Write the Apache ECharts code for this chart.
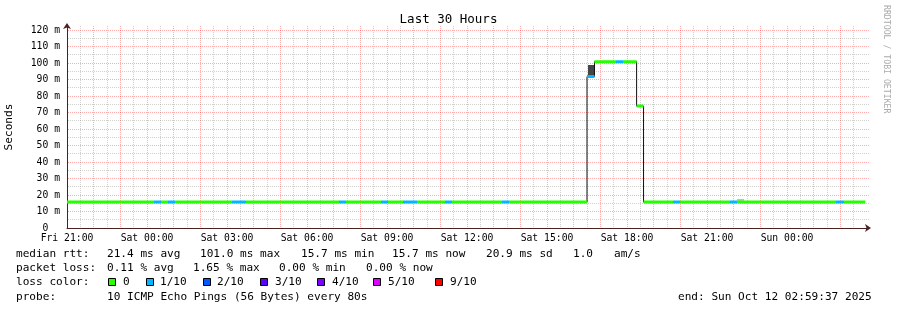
<!DOCTYPE html>
<html><head><meta charset="utf-8">
<script src="https://cdn.jsdelivr.net/npm/echarts@6/dist/echarts.min.js"></script>
<style>html,body{margin:0;padding:0;background:#fff}#c{width:897px;height:310px}</style>
</head><body><div id="c"></div>
<script>
// ---------- data (hours since Fri 21:00) ----------
const xTickLabels = ['Fri 21:00','Sat 00:00','Sat 03:00','Sat 06:00','Sat 09:00','Sat 12:00','Sat 15:00','Sat 18:00','Sat 21:00','Sun 00:00'];
const stepEdges = [0,3.2625,3.525,3.7875,4.05,6.1875,6.7125,10.2,10.4625,11.775,12.0375,12.6,13.125,14.175,14.4375,16.3125,16.575,19.5,19.78,20.59,20.85,21.36,21.62,22.725,22.99,24.86,25.125,28.84,29.14,29.93];
const stepMedian = [15.7,15.7,15.7,15.7,15.7,15.7,15.7,15.7,15.7,15.7,15.7,15.7,15.7,15.7,15.7,15.7,15.7,91.8,100.8,100.8,100.8,73.9,15.7,15.7,15.7,15.7,15.7,15.7,15.7];
const stepLoss   = [0,1,0,1,0,1,0,1,0,1,0,1,0,1,0,1,0,1,0,1,0,0,0,1,0,1,0,1,0];
// smoke: start, end, low, high (ms), density 0..1
const smokeStart = [19.5375, 25.125];
const smokeEnd = [19.8, 25.3875];
const smokeLow = [92.7, 16.4];
const smokeHigh = [98.8, 17.6];
const smokeDensity = [0.85, 0.2];
// grid ticks
const xMajorTicks = [1,2,3,4,5,6,7,8,9,10,11,12,13,14,15,16,17,18,19,20,21,22,23,24,25,26,27,28,29];
const xMinorTicks = [0.5,1.5,2.5,3.5,4.5,5.5,6.5,7.5,8.5,9.5,10.5,11.5,12.5,13.5,14.5,15.5,16.5,17.5,18.5,19.5,20.5,21.5,22.5,23.5,24.5,25.5,26.5,27.5,28.5,29.5];
const yMajorTicks = [10,20,30,40,50,60,70,80,90,100,110,120];
const yMinorTicks = [5,15,25,35,45,55,65,75,85,95,105,115];
// legend texts
const lossLabels = ['0','1/10','2/10','3/10','4/10','5/10','9/10'];
const lossLevels = [0,1,2,3,4,5,9];
const medianStats = ['21.4 ms avg','101.0 ms max','15.7 ms min','15.7 ms now','20.9 ms sd','1.0','am/s'];
const lossStats = ['0.11 % avg','1.65 % max','0.00 % min','0.00 % now'];
const probeText = '10 ICMP Echo Pings (56 Bytes) every 80s';
const endText = 'end: Sun Oct 12 02:59:37 2025';

// ---------- styles ----------
const lossColors = ['#26ff00','#00b8ff','#0059ff','#5e00ff','#7e00ff','#dd00ff','#ff0000'];
const MONO = 'DejaVu Sans Mono';
const majorGrid = 'rgba(255,0,0,0.33)';
const minorGrid = 'rgba(140,140,140,0.42)';

function lossIndex(l){ const i = lossLevels.indexOf(l); return i >= 0 ? i : lossLevels.length-1; }
function smokeShade(d){ const g = Math.round(230 - d*190); return 'rgb('+g+','+g+','+g+')'; }

// black step line
const stepLine = [];
for (let i = 0; i < stepMedian.length; i++) {
  stepLine.push([stepEdges[i], stepMedian[i]]);
  stepLine.push([stepEdges[i+1], stepMedian[i]]);
}
// coloured segments per loss level
const lossSeries = [];
const usedLoss = Array.from(new Set(stepLoss));
usedLoss.forEach(l => {
  const d = [];
  for (let i = 0; i < stepMedian.length; i++) {
    if (stepLoss[i] !== l) continue;
    d.push([stepEdges[i], stepMedian[i]]);
    d.push([stepEdges[i+1], stepMedian[i]]);
    d.push([stepEdges[i+1], '-']);
  }
  lossSeries.push({
    type:'line', data:d, symbol:'none', connectNulls:false, z:4,
    lineStyle:{color: lossColors[lossIndex(l)], width:3, cap:'butt'}, silent:true
  });
});
const smokeData = smokeStart.map((s,i)=>[s, smokeEnd[i], smokeLow[i], smokeHigh[i], smokeDensity[i]]);

function vGridSeries(ticks, color, z){
  return {type:'custom', data:ticks.map(v=>[v, 0]), z:z, silent:true, clip:false, encode:{x:0, y:1},
    renderItem:(params, api)=>{
      const cs = params.coordSys;
      const p = api.coord([api.value(0), 0]);
      const x = Math.floor(p[0]) + 0.5;
      return {type:'line', shape:{x1:x, y1:cs.y, x2:x, y2:cs.y + cs.height}, style:{stroke:color, lineWidth:1, lineDash:[1,1]}};
    }};
}
function hGridSeries(ticks, color, z){
  return {type:'custom', data:ticks.map(v=>[0, v]), z:z, silent:true, clip:false, encode:{x:0, y:1},
    renderItem:(params, api)=>{
      const cs = params.coordSys;
      const p = api.coord([0, api.value(1)]);
      const y = Math.floor(p[1]) + 0.5;
      return {type:'line', shape:{x1:cs.x + 1, y1:y, x2:cs.x + cs.width + 2, y2:y}, style:{stroke:color, lineWidth:1, lineDash:[1,1]}};
    }};
}

// ---------- legend graphics ----------
const graphics = [];
function txt(x, y, s, size, color){
  graphics.push({type:'text', x:x, y:y, style:{text:s, font: size+'px "'+MONO+'"', fill:color||'#000', textAlign:'left', textVerticalAlign:'middle'}, silent:true});
}
const L1=254, L2=268, L3=282, L4=297;
txt(16, L1, 'median rtt:', 11.1);
[107,200,301,392,486,573,614].forEach((x,i)=>txt(x, L1, medianStats[i], 11.1));
txt(16, L2, 'packet loss:', 11.1);
[107,193,279,366].forEach((x,i)=>txt(x, L2, lossStats[i], 11.1));
txt(16, L3, 'loss color:', 11.1);
const boxX = [108,146,203,260,317,373,435];
const labX = [123,160,217,275,332,388,450];
lossLabels.forEach((s,i)=>{
  graphics.push({type:'rect', shape:{x:boxX[i]+0.5, y:L3-3.5, width:7, height:7}, style:{fill:lossColors[i], stroke:'#000', lineWidth:1}, silent:true});
  txt(labX[i], L3, s, 11.1);
});
txt(16, L4, 'probe:', 11.1);
txt(107, L4, probeText, 11.1);
txt(678, L4, endText, 11.1);
graphics.push({type:'text', x:886, y:5, rotation:-Math.PI/2, style:{text:'RRDTOOL / TOBI OETIKER', font:'8.2px "'+MONO+'"', fill:'#aaaaaa', textAlign:'left', textVerticalAlign:'middle'}, silent:true});

const chart = echarts.init(document.getElementById('c'), null, {renderer:'canvas'});
chart.setOption({
  animation:false,
  backgroundColor:'#fff',
  title:{text:'Last 30 Hours', left:'center', top:13, padding:0,
    textStyle:{fontFamily:MONO, fontSize:12.5, fontWeight:'normal', color:'#000'}},
  grid:{left:67, right:30, top:26.04, bottom:82, containLabel:false, outerBoundsMode:'none'},
  xAxis:{
    type:'value', min:0, max:30, interval:1,
    axisLine:{show:true, onZero:false, symbol:['none','arrow'], symbolSize:[6,6], symbolOffset:[0,4], lineStyle:{color:'#4a2020', width:1}},
    axisTick:{show:false},
    axisLabel:{margin:5, fontFamily:MONO, fontSize:9.72, color:'#000', showMaxLabel:false,
      formatter:v=>{ const k=v/3; if (Math.abs(k-Math.round(k))<1e-6 && v<29.9) return xTickLabels[Math.round(k)]; return ''; }},
    splitLine:{show:false}
  },
  yAxis:{
    type:'value', min:0, max:122.4, interval:10,
    name:'Seconds', nameLocation:'middle', nameRotate:90, nameGap:52,
    nameTextStyle:{fontFamily:MONO, fontSize:11.1, color:'#000'},
    axisLine:{show:true, symbol:['none','arrow'], symbolSize:[6,6], symbolOffset:[0,3], lineStyle:{color:'#4a2020', width:1}},
    axisTick:{show:false},
    axisLabel:{margin:7, fontFamily:MONO, fontSize:9.72, color:'#000', showMaxLabel:false,
      formatter:v=>{ const k=v/10; if (Math.abs(k-Math.round(k))<1e-6 && v<=120.01) return v===0 ? '0  ' : Math.round(v)+' m'; return ''; }},
    splitLine:{show:false}
  },
  series:[
    vGridSeries(xMinorTicks, minorGrid, 0),
    hGridSeries(yMinorTicks, minorGrid, 0),
    vGridSeries(xMajorTicks, majorGrid, 1),
    hGridSeries(yMajorTicks, majorGrid, 1),
    {type:'custom', data:smokeData, z:2, silent:true, encode:{x:[0,1], y:[2,3]},
      renderItem:(params, api)=>{
        const p0 = api.coord([api.value(0), api.value(3)]);
        const p1 = api.coord([api.value(1), api.value(2)]);
        return {type:'rect', shape:{x:p0[0], y:p0[1], width:p1[0]-p0[0], height:p1[1]-p0[1]}, style:{fill:smokeShade(api.value(4))}};
      }},
    {type:'line', data:stepLine, symbol:'none', z:3, silent:true, lineStyle:{color:'#111', width:1}},
    ...lossSeries
  ],
  graphic:graphics
});
</script></body></html>
